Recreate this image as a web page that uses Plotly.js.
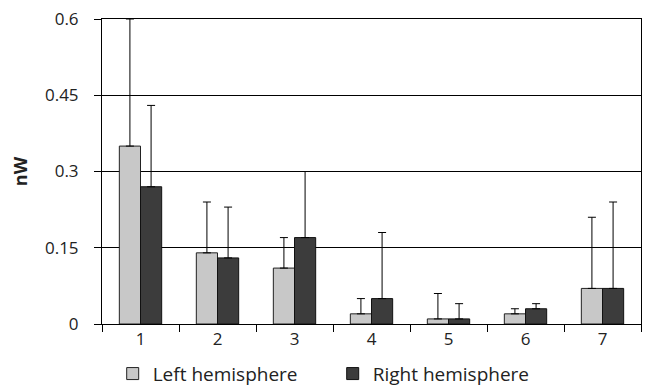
<!DOCTYPE html>
<html>
<head>
<meta charset="utf-8">
<script src="https://cdn.plot.ly/plotly-3.0.1.min.js"></script>
<style>html,body{margin:0;padding:0;background:#fff;}#chart{width:646px;height:387px;}</style>
</head>
<body>
<div id="chart"></div>
<script>
var categories = ["1", "2", "3", "4", "5", "6", "7"];
var leftValues = [0.35, 0.14, 0.11, 0.02, 0.01, 0.02, 0.07];
var leftErrors = [0.25, 0.10, 0.06, 0.03, 0.05, 0.01, 0.14];
var rightValues = [0.27, 0.13, 0.17, 0.05, 0.01, 0.03, 0.07];
var rightErrors = [0.16, 0.10, 0.13, 0.13, 0.03, 0.01, 0.17];
var yTicks = [0, 0.15, 0.3, 0.45, 0.6];
var yTickLabels = ["0", "0.15", "0.3", "0.45", "0.6"];

var FONT = "Open Sans, sans-serif";

function errBar(arr) {
  return {type: "data", symmetric: false, array: arr, arrayminus: arr.map(function(){return 0;}),
          color: "#000", thickness: 1, width: 4};
}

var traces = [
  {type: "bar", name: "Left hemisphere", x: categories, y: leftValues,
   marker: {color: "#c8c8c8", line: {color: "#222", width: 1}},
   error_y: errBar(leftErrors), cliponaxis: false},
  {type: "bar", name: "Right hemisphere", x: categories, y: rightValues,
   marker: {color: "#3c3c3c", line: {color: "#111", width: 1}},
   error_y: errBar(rightErrors), cliponaxis: false}
];

var layout = {
  width: 646, height: 387,
  margin: {l: 102, r: 5, t: 19, b: 63, autoexpand: false},
  paper_bgcolor: "#fff", plot_bgcolor: "#fff",
  barmode: "group", bargap: 0.45, bargroupgap: 0,
  font: {family: FONT, size: 17, color: "#222"},
  showlegend: true,
  legend: {orientation: "h", xref: "paper", x: 0.428, xanchor: "center",
           yref: "paper", y: -0.163, yanchor: "middle",
           font: {family: FONT, size: 19, color: "#222"}, traceorder: "normal",
           itemwidth: 30, entrywidth: 175, entrywidthmode: "pixels"},
  xaxis: {type: "category", showline: true, linecolor: "#000", linewidth: 1,
          ticks: "outside", tickson: "boundaries", ticklen: 7, tickcolor: "#000",
          showgrid: false, zeroline: false, mirror: true, automargin: false,
          tickfont: {family: FONT, size: 17, color: "#222"}},
  yaxis: {range: [0, 0.6], tickvals: yTicks, ticktext: yTickLabels,
          showline: true, linecolor: "#000", linewidth: 1, mirror: true,
          ticks: "outside", ticklen: 7, tickcolor: "#000",
          showgrid: true, gridcolor: "#000", gridwidth: 1, zeroline: false,
          ticklabelstandoff: 12, automargin: false,
          tickfont: {family: FONT, size: 17, color: "#222"},
          title: {text: "<b>nW</b>", font: {family: FONT, size: 18, color: "#222"}, standoff: 12}}
};

Plotly.newPlot("chart", traces, layout, {displayModeBar: false, staticPlot: true});
</script>
</body>
</html>
